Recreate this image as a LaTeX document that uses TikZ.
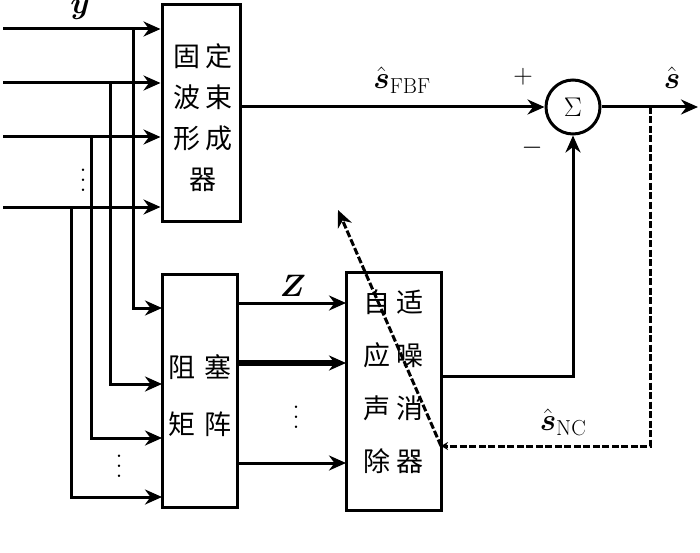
\RequirePackage{fix-cm}
\documentclass[tikz,border=0pt]{standalone}
\usepackage{amsmath,amssymb}
\usepackage{fontspec}
\usepackage{tikz}
\usetikzlibrary{arrows.meta}
\newfontfamily\cjk{Noto Sans CJK SC}
\newcommand\shat{\hat{\boldsymbol s}}
\newcommand\vdts{\vbox{\baselineskip10pt\lineskiplimit0pt\hbox{.}\hbox{.}\hbox{.}}}
\tikzstyle{sghead}=[>/.tip={Stealth[length=17pt,width=15pt,inset=5.5pt]}]
\tikzstyle{sg} =[line width=3pt,sghead,->]
\tikzstyle{sgx}=[line width=5.5pt,sghead,->]
\tikzstyle{sgd}=[line width=3pt,dash pattern=on 7pt off 2.5pt,sghead,->]
\tikzstyle{sgf}=[sgd,>/.tip={Stealth[length=7pt,width=8pt]}]
\tikzstyle{blk}=[draw,line width=3pt,inner sep=0pt]
\tikzstyle{txt}=[inner sep=0pt,align=center]
\tikzstyle{lab}=[inner sep=0pt,font=\fontsize{31}{34}\selectfont]
\tikzstyle{sgn}=[inner sep=0pt,font=\fontsize{27}{30}\selectfont]
\tikzstyle{dts}=[inner sep=0pt,font=\fontsize{30}{30}\selectfont]
\begin{document}
\begin{tikzpicture}[x=1pt,y=-1pt]
	\useasboundingbox (0,0) rectangle (700,553);
	% blocks
	\node[blk,minimum width=78pt,minimum height=216pt] (fbf) at (201,113) {};
	\node[blk,minimum width=75pt,minimum height=233pt] (bm)  at (199.5,390.5) {};
	\node[blk,minimum width=95pt,minimum height=238pt] (anc) at (393.5,391) {};
	\node[draw,circle,line width=3pt,minimum size=54pt,inner sep=0pt,
	      font=\fontsize{27}{27}\selectfont] (sum) at (573,107) {$\Sigma$};
	\node[txt,font=\cjk\fontsize{27}{41}\selectfont] (fbft) at (203,118)
	  {固\hspace{6pt}定\\波\hspace{6pt}束\\形\hspace{6pt}成\\器};
	\node[txt,font=\cjk\fontsize{27}{57}\selectfont] (bmt) at (200,396)
	  {阻\hspace{9pt}塞\\矩\hspace{9pt}阵};
	\node[txt,font=\cjk\fontsize{27}{53}\selectfont] (anct) at (393,382)
	  {自\hspace{6pt}适\\应\hspace{6pt}噪\\声\hspace{6pt}消\\除\hspace{6pt}器};
	% microphone inputs and taps
	\foreach \i/\yin/\xt/\yout in {1/29/133/308,2/83/110/384,3/137/91/438,4/207/71/497} {
	  \coordinate (in\i) at (3,\yin);
	  \coordinate (tap\i) at (\xt,\yin);
	  \coordinate (bmin\i) at (162,\yout);
	  \draw[sg] (in\i) -- (fbf.west |- in\i);
	  \draw[sg] (tap\i) |- (bmin\i);
	}
	% blocking matrix outputs
	\foreach \i/\yz in {1/303,3/463} {
	  \coordinate (bmo\i) at (237,\yz);
	  \coordinate (anci\i) at (346,\yz);
	  \draw[sg] (bmo\i) -- (anci\i);
	}
	\coordinate (bmo2) at (237,363);
	\coordinate (anci2) at (346,363);
	\draw[sgx] (bmo2) -- (anci2);
	% sum
	\draw[sg] (fbf.east |- sum.west) -- (sum.west);
	\coordinate (shat) at (698,107);
	\draw[sg] (sum.east) -- (shat);
	\coordinate (anco) at (441,376);
	\draw[sg] (anco) -| (sum.south);
	% feedback
	\coordinate (fb) at (650,107);
	\coordinate (ancfb) at (441,446);
	\coordinate (adapt) at (338,210);
	\draw[sgf] (fb) |- (ancfb);
	\draw[sgd] (ancfb) -- (adapt);
	% labels
	\node[lab] (ly)   at (80,10)   {$\boldsymbol y$};
	\node[lab] (lz)   at (293,286) {$\boldsymbol Z$};
	\node[lab] (lfbf) at (402,80)  {$\shat_{\mathrm{FBF}}$};
	\node[lab] (lnc)  at (563,422) {$\shat_{\mathrm{NC}}$};
	\node[lab] (ls)   at (672,78)  {$\shat$};
	\node[sgn] (lp)   at (523,77)  {$+$};
	\node[sgn] (lm)   at (532,148) {$-$};
	\node[dts] (d1) at (83,180)  {\vdts};
	\node[dts] (d2) at (119,466) {\vdts};
	\node[dts] (d3) at (296,417) {\vdts};
\end{tikzpicture}
\end{document}
